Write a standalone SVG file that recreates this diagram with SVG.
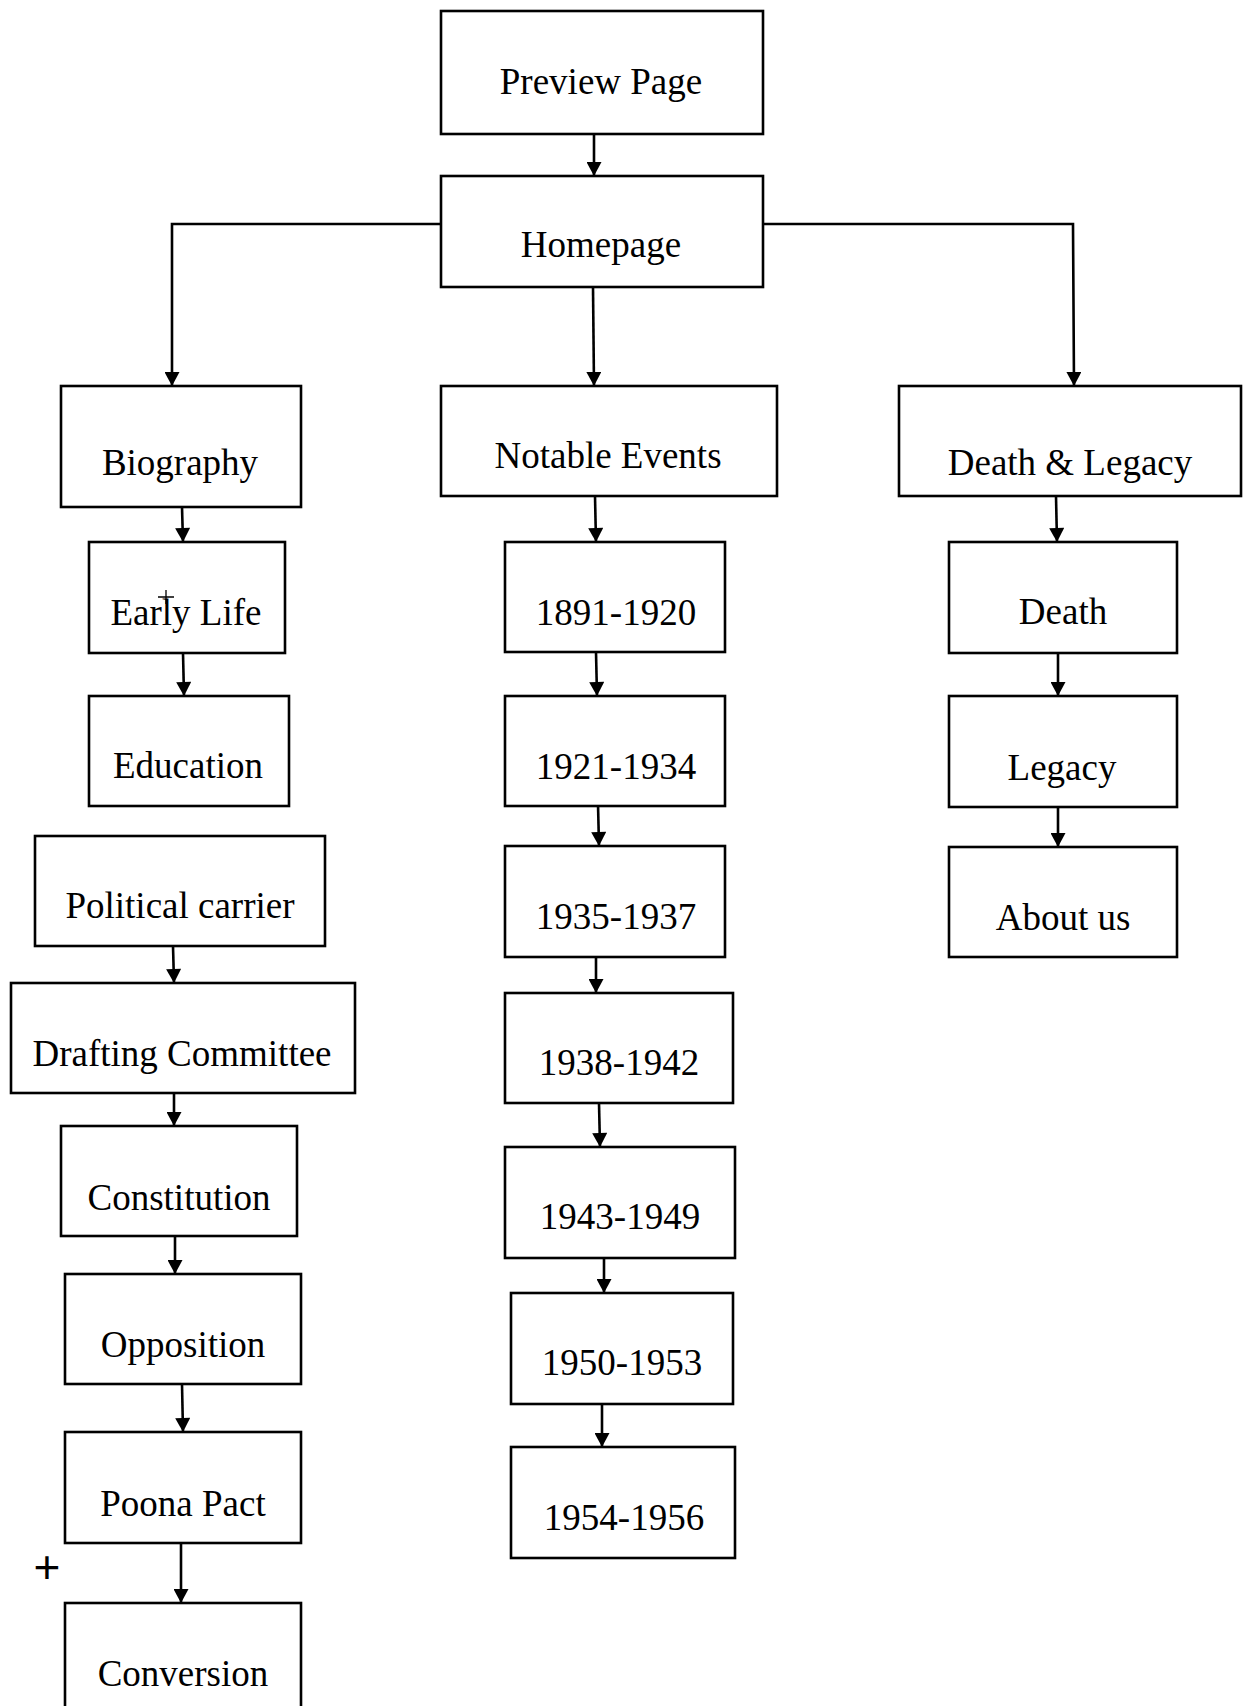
<svg xmlns="http://www.w3.org/2000/svg" width="1243" height="1706" viewBox="0 0 1243 1706">
<style>
.box{fill:#fff;stroke:#000;stroke-width:2.6}
.t{font-family:"Liberation Serif","Times New Roman",serif;font-size:37px;fill:#000;text-anchor:middle}
.c{fill:none;stroke:#000;stroke-width:2.6}
</style>
<defs>
<marker id="ah" viewBox="0 0 14 15" refX="14" refY="7.5" markerWidth="15" markerHeight="15" markerUnits="userSpaceOnUse" orient="auto">
<path d="M0,0 L14,7.5 L0,15 z" fill="#000"/>
</marker>
</defs>
<rect width="1243" height="1706" fill="#fff"/>
<g id="connectors">
<path class="c" d="M594,134 L594,176" marker-end="url(#ah)"/>
<path class="c" d="M441,224 L172,224 L172,386" marker-end="url(#ah)"/>
<path class="c" d="M593,287 L594,386" marker-end="url(#ah)"/>
<path class="c" d="M763,224 L1073,224 L1074,386" marker-end="url(#ah)"/>
<path class="c" d="M182,507 L183,542" marker-end="url(#ah)"/>
<path class="c" d="M183,653 L184,696" marker-end="url(#ah)"/>
<path class="c" d="M173,946 L174,983" marker-end="url(#ah)"/>
<path class="c" d="M174,1093 L174,1126" marker-end="url(#ah)"/>
<path class="c" d="M175,1236 L175,1274" marker-end="url(#ah)"/>
<path class="c" d="M182,1384 L183,1432" marker-end="url(#ah)"/>
<path class="c" d="M181,1543 L181,1603" marker-end="url(#ah)"/>
<path class="c" d="M595,496 L596,542" marker-end="url(#ah)"/>
<path class="c" d="M596,652 L597,696" marker-end="url(#ah)"/>
<path class="c" d="M598,804 L599,846" marker-end="url(#ah)"/>
<path class="c" d="M596,957 L596,993" marker-end="url(#ah)"/>
<path class="c" d="M599,1103 L600,1147" marker-end="url(#ah)"/>
<path class="c" d="M604,1258 L604,1293" marker-end="url(#ah)"/>
<path class="c" d="M602,1404 L602,1447" marker-end="url(#ah)"/>
<path class="c" d="M1056,496 L1057,542" marker-end="url(#ah)"/>
<path class="c" d="M1058,653 L1058,696" marker-end="url(#ah)"/>
<path class="c" d="M1058,807 L1058,847" marker-end="url(#ah)"/>
</g>
<g id="preview"><rect class="box" x="441" y="11" width="322" height="123"/><text class="t" x="601" y="94">Preview Page</text></g>
<g id="homepage"><rect class="box" x="441" y="176" width="322" height="111"/><text class="t" x="601" y="257">Homepage</text></g>
<g id="biography"><rect class="box" x="61" y="386" width="240" height="121"/><text class="t" x="180" y="475">Biography</text></g>
<g id="earlylife"><rect class="box" x="89" y="542" width="196" height="111"/><text class="t" x="186" y="625">Early Life</text>
<path d="M166,590 L166,604 M158,597 L174,597" stroke="#000" stroke-width="1.3" fill="none"/></g>
<g id="education"><rect class="box" x="89" y="696" width="200" height="110"/><text class="t" x="188" y="778">Education</text></g>
<g id="political"><rect class="box" x="35" y="836" width="290" height="110"/><text class="t" x="180" y="918">Political carrier</text></g>
<g id="drafting"><rect class="box" x="11" y="983" width="344" height="110"/><text class="t" x="182" y="1066">Drafting Committee</text></g>
<g id="constitution"><rect class="box" x="61" y="1126" width="236" height="110"/><text class="t" x="179" y="1210">Constitution</text></g>
<g id="opposition"><rect class="box" x="65" y="1274" width="236" height="110"/><text class="t" x="183" y="1357">Opposition</text></g>
<g id="poona"><rect class="box" x="65" y="1432" width="236" height="111"/><text class="t" x="183" y="1516">Poona Pact</text></g>
<g id="conversion"><rect class="box" x="65" y="1603" width="236" height="130"/><text class="t" x="183" y="1686">Conversion</text></g>
<text x="47" y="1583" font-family="Liberation Sans, Arial, sans-serif" font-size="46" text-anchor="middle">+</text>
<g id="notable"><rect class="box" x="441" y="386" width="336" height="110"/><text class="t" x="608" y="468">Notable Events</text></g>
<g id="e1891"><rect class="box" x="505" y="542" width="220" height="110"/><text class="t" x="616" y="625">1891-1920</text></g>
<g id="e1921"><rect class="box" x="505" y="696" width="220" height="110"/><text class="t" x="616" y="779">1921-1934</text></g>
<g id="e1935"><rect class="box" x="505" y="846" width="220" height="111"/><text class="t" x="616" y="929">1935-1937</text></g>
<g id="e1938"><rect class="box" x="505" y="993" width="228" height="110"/><text class="t" x="619" y="1075">1938-1942</text></g>
<g id="e1943"><rect class="box" x="505" y="1147" width="230" height="111"/><text class="t" x="620" y="1229">1943-1949</text></g>
<g id="e1950"><rect class="box" x="511" y="1293" width="222" height="111"/><text class="t" x="622" y="1375">1950-1953</text></g>
<g id="e1954"><rect class="box" x="511" y="1447" width="224" height="111"/><text class="t" x="624" y="1530">1954-1956</text></g>
<g id="deathlegacy"><rect class="box" x="899" y="386" width="342" height="110"/><text class="t" x="1070" y="475">Death &amp; Legacy</text></g>
<g id="death"><rect class="box" x="949" y="542" width="228" height="111"/><text class="t" x="1063" y="624">Death</text></g>
<g id="legacy"><rect class="box" x="949" y="696" width="228" height="111"/><text class="t" x="1062" y="780">Legacy</text></g>
<g id="aboutus"><rect class="box" x="949" y="847" width="228" height="110"/><text class="t" x="1063" y="930">About us</text></g>
</svg>
